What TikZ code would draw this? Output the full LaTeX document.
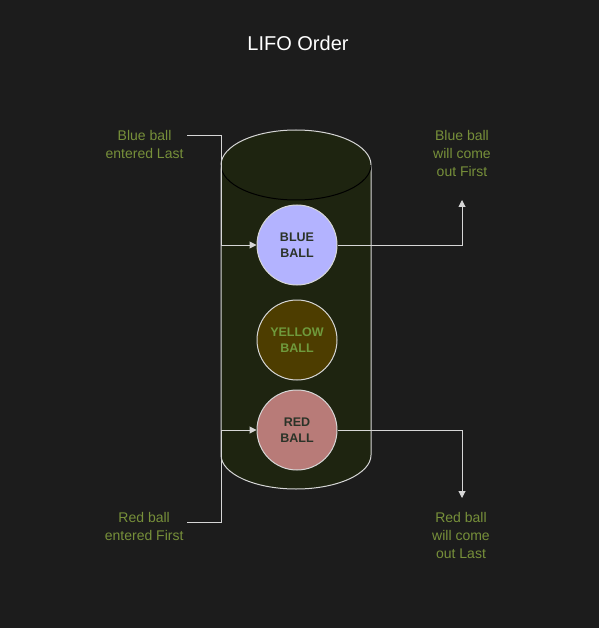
\documentclass[tikz,border=0pt]{standalone}
\usepackage{fontspec}
\setmainfont{Liberation Sans}
\usetikzlibrary{arrows.meta}
\definecolor{bg}{HTML}{1C1C1C}
\definecolor{cylfill}{HTML}{1E2410}
\definecolor{stroke}{HTML}{D6D6D6}
\definecolor{lbl}{HTML}{77903A}
\definecolor{bluefill}{HTML}{B3B3FF}
\definecolor{yellowfill}{HTML}{4D3D00}
\definecolor{redfill}{HTML}{B87B78}
\definecolor{darktxt}{HTML}{2B3328}
\definecolor{yellowtxt}{HTML}{6F9A3C}
\begin{document}
\begin{tikzpicture}[x=1pt,y=-1pt,
  ball/.style={circle,draw=stroke,line width=1pt,minimum size=80pt,inner sep=0pt,align=center,font=\bfseries\fontsize{12.5}{15.5}\selectfont},
  lab/.style={text=lbl,align=center,font=\fontsize{14}{18}\selectfont},
  conn/.style={draw=stroke,line width=1pt},
  arr/.style={conn,-{Triangle[width=7pt,length=7pt]}}]
\fill[bg] (0,0) rectangle (599,628);
\useasboundingbox (0,0) rectangle (599,628);
% cylinder
\path[fill=cylfill,draw=stroke,line width=1pt]
  (221,165) -- (221,455) arc[start angle=180,end angle=360,x radius=75,y radius=-34]
  -- (371,165) arc[start angle=0,end angle=180,x radius=75,y radius=-35] -- cycle;
\draw[stroke,line width=1pt] (221,165) arc[start angle=180,end angle=360,x radius=75,y radius=-35];
\node[font=\fontsize{20}{22}\selectfont,text=white] (title) at (298,43) {LIFO Order};
\node[ball,fill=bluefill,text=darktxt] (blue) at (297,245) {BLUE\\BALL};
\node[ball,fill=yellowfill,text=yellowtxt] (yellow) at (297,340) {YELLOW\\BALL};
\node[ball,fill=redfill,text=darktxt] (red) at (297,430) {RED\\BALL};
\node[lab,anchor=east] (bin) at (187,144) {Blue ball\\entered Last};
\node[lab,anchor=east] (rin) at (187,526) {Red ball\\entered First};
\node[lab] (bout) at (462,153) {Blue ball\\will come\\out First};
\node[lab] (rout) at (461,535) {Red ball\\will come\\out Last};
\coordinate (bupend) at (462,200);
\coordinate (rdownend) at (462,498);
\draw[arr] (bin.east |- 0,136) -| (221,245) -- (blue.west);
\draw[arr] (rin.east |- 0,522) -| (221,430) -- (red.west);
\draw[arr] (blue.east) -| (bupend);
\draw[arr] (red.east) -| (rdownend);
\end{tikzpicture}
\end{document}
